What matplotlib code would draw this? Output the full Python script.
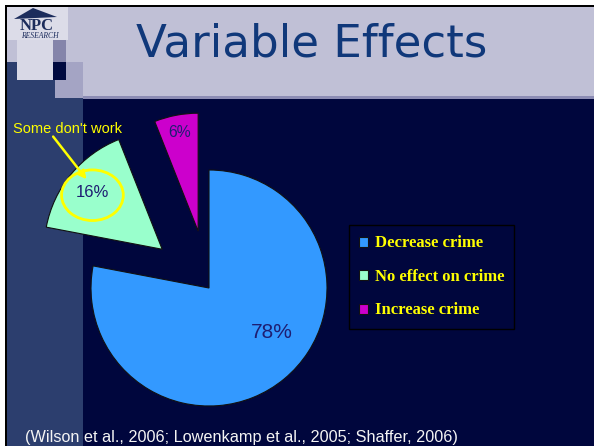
import matplotlib
matplotlib.use("Agg")
import matplotlib.pyplot as plt
from matplotlib.patches import Rectangle, Ellipse, Polygon

# data
labels = ["Decrease crime", "No effect on crime", "Increase crime"]
shares = [78, 16, 6]
colors = ["#3399ff", "#99ffcc", "#cc00cc"]

title = "Variable Effects"
note = "Some don't work"
source = "(Wilson et al., 2006; Lowenkamp et al., 2005; Shaffer, 2006)"

# layout / style
explode = [0.0, 0.515, 0.49]
# label offsets from each wedge's own centre (pie radius units)
pct_off = [(0.534, -0.381), (-0.593, 0.483), (-0.161, 0.839)]
pct_size = [15, 12, 11.3]
W, H = 594, 446
R, CX, CY = 118, 209, 288          # pie radius and centre in pixels
NAVY = "#00063d"
STRIP = "#2c3e6e"
LAV = "#c0c0d6"
YEL = "#ffff00"

fig = plt.figure(figsize=(W / 100, H / 100), dpi=100, facecolor="white")

# background slide
bg = fig.add_axes([0, 0, 1, 1])
bg.set_xlim(0, W)
bg.set_ylim(H, 0)
bg.axis("off")


def box(x0, y0, x1, y1, c):
    bg.add_patch(Rectangle((x0, y0), x1 - x0, y1 - y0, color=c, lw=0))


box(5, 5, W, H, "black")
box(7, 7, W, 98, LAV)
box(7, 96, W, 99, "#8c8cb4")
box(7, 99, W, H, NAVY)
box(7, 62, 55, H, STRIP)
box(7, 98, 83, H, STRIP)
box(55, 62, 83, 98, "#a4a4c4")
box(53, 40, 66, 62, "#8484aa")
box(53, 62, 66, 80, "#000a40")
box(17, 40, 53, 80, "#d8d8e6")
box(7, 7, 68, 40, "#dcdce8")

# logo
bg.add_patch(Polygon([(14, 19), (33, 8), (57, 17)], closed=True, color="#1c2c5c", lw=0))
bg.text(37, 30, "NPC", ha="center", va="baseline", family="Liberation Serif",
        weight="bold", size=12, color="#1c2c5c")
bg.text(40, 38.5, "RESEARCH", ha="center", va="baseline", family="Liberation Serif",
        style="italic", size=5.5, color="#1c2c5c")

bg.text(312, 56.7, title, ha="center", va="baseline", family="DejaVu Sans",
        size=32.5, color="#10387a")
bg.text(25, 441.7, source, ha="left", va="baseline", family="Liberation Sans",
        size=11.7, color="#f4f4f4")

# pie
ax = fig.add_axes([0, 0, 1, 1])
ax.patch.set_alpha(0)
wedges, _ = ax.pie(shares, colors=colors, explode=explode, startangle=90,
                   counterclock=False,
                   wedgeprops=dict(edgecolor="#111111", linewidth=0.8))
for w, v, (dx, dy), s in zip(wedges, shares, pct_off, pct_size):
    x0, y0 = w.center
    ax.text(x0 + dx, y0 + dy, f"{v}%", ha="center", va="center",
            family="Liberation Sans", size=s, color="#1e1e72")

# callout on the "no effect" slice
gx, gy = wedges[1].center
ax.add_patch(Ellipse((gx - 0.591, gy + 0.458), 0.523, 0.429, fill=False,
                     edgecolor=YEL, lw=2))
ax.annotate("", xy=(gx - 0.641, gy + 0.593), xytext=(gx - 0.924, gy + 0.955),
            arrowprops=dict(arrowstyle="-|>", color=YEL, lw=1.8, mutation_scale=12,
                            shrinkA=0, shrinkB=0))
ax.text(gx - 0.801, gy + 0.989, note, ha="center", va="baseline",
        family="Liberation Sans", size=10.5, color=YEL)

ax.set_xlim(-CX / R, (W - CX) / R)
ax.set_ylim(-(H - CY) / R, CY / R)
ax.set_aspect("equal")
ax.axis("off")

leg = fig.legend(wedges, labels, loc="upper left", bbox_to_anchor=(349 / W, 1 - 225.5 / H),
                 borderaxespad=0, frameon=True, fancybox=False, facecolor=NAVY,
                 edgecolor="black", framealpha=1,
                 prop=dict(family="Liberation Serif", weight="bold", size=12),
                 labelcolor=YEL, handlelength=0.55, handleheight=0.55,
                 handletextpad=0.4, labelspacing=1.05, borderpad=0.6)
leg.get_frame().set_linewidth(1.0)

fig.savefig("out.png", dpi=100, facecolor="white")
